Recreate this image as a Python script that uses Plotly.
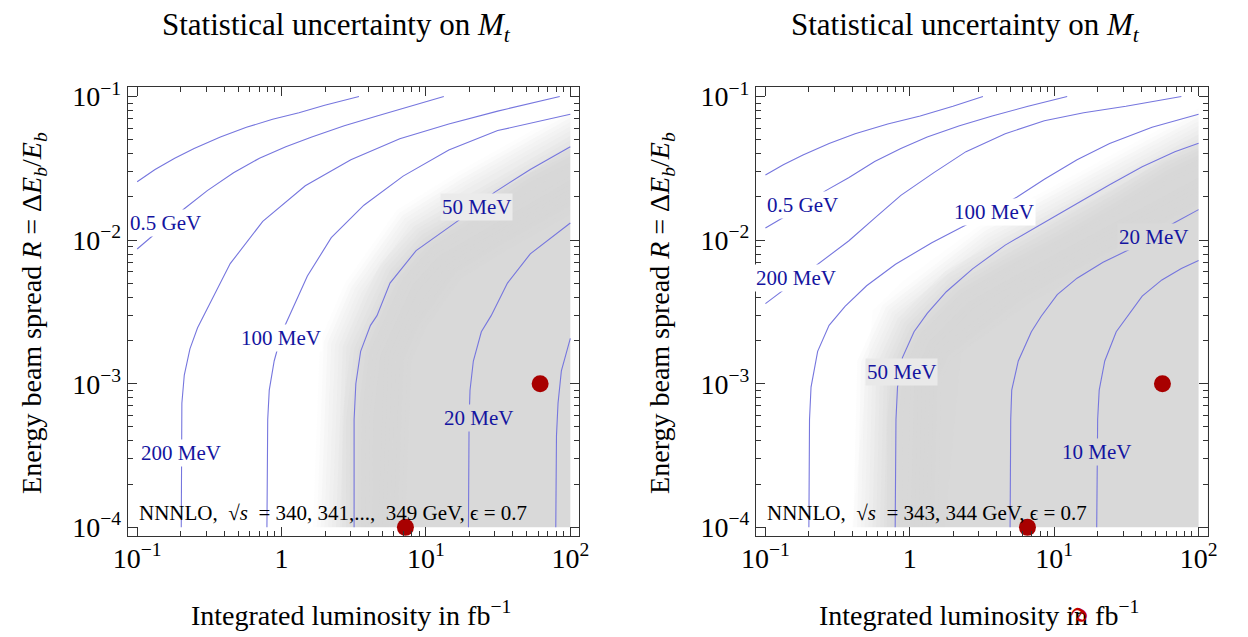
import math
import plotly.graph_objects as go

# ---- left panel: sqrt(s) = 340 ... 349 GeV ----
# contour lines (L in fb^-1, R = dE/E)
L1_1000 = [0.1, 0.133, 0.182, 0.248, 0.377, 0.571, 0.867, 1.32, 1.99, 3.44]
R1_1000 = [0.0255, 0.0310, 0.0372, 0.0435, 0.0522, 0.0610, 0.0695, 0.0771, 0.0869, 0.1]
L1_500 = [0.1, 0.125, 0.213, 0.306, 0.465, 0.703, 1.07, 1.62, 2.72, 4.58, 7.71, 13.3]
R1_500 = [0.00867, 0.0105, 0.0166, 0.0221, 0.0294, 0.0372, 0.0447, 0.0522, 0.0626, 0.0731, 0.0855, 0.1]
L1_200 = [0.202, 0.202, 0.204, 0.212, 0.232, 0.262, 0.300, 0.441, 0.741, 1.46, 3.02, 6.59, 14.4, 31.4, 84.5]
R1_200 = [1e-4, 4.35e-4, 7.31e-4, 1.15e-3, 1.75e-3, 2.45e-3, 3.20e-3, 6.86e-3, 0.0135, 0.0239, 0.0362, 0.0508,
          0.0643, 0.0791, 0.1]
L1_100 = [0.792, 0.802, 0.822, 0.889, 1.01, 1.17, 1.51, 2.21, 3.72, 6.95, 14.4, 31.4, 100]
R1_100 = [1e-4, 5.64e-4, 9.02e-4, 1.44e-3, 2.30e-3, 3.16e-3, 5.62e-3, 0.0104, 0.0175, 0.0279, 0.0424, 0.0579, 0.0751]
L1_50 = [3.18, 3.18, 3.27, 3.53, 4.13, 4.58, 5.64, 8.55, 17.7, 29.8, 52.8, 100]
R1_50 = [1e-4, 5.64e-4, 1e-3, 1.68e-3, 2.55e-3, 2.98e-3, 5.02e-3, 8.45e-3, 0.01422, 0.0215, 0.0310, 0.0447]
L1_20 = [19.7, 19.9, 20.2, 21.3, 24.2, 28.3, 36.7, 52.8, 100]
R1_20 = [1e-4, 5.64e-4, 9.02e-4, 1.44e-3, 2.30e-3, 2.98e-3, 5.02e-3, 8.02e-3, 0.01315]
L1_10 = [79.3, 80.2, 82.2, 86.7, 100]
R1_10 = [1e-4, 4.35e-4, 7.31e-4, 1.23e-3, 2.07e-3]

# edge of the grey region (full grey starts here)
L1_shade = [3.35, 3.35, 3.37, 3.82, 5.22, 6.59, 10.5, 24.2, 50.2, 100, 200]
R1_shade = [5e-5, 1e-4, 5.64e-4, 1.68e-3, 3.48e-3, 5.57e-3, 9.37e-3, 0.01578, 0.02655, 0.0382, 0.052]

L1_dots = [7.21, 61.8]
R1_dots = [1e-4, 1e-3]

# ---- right panel: sqrt(s) = 343, 344 GeV ----
L2_1000 = [0.1, 0.133, 0.182, 0.276, 0.418, 0.703, 1.18, 1.99, 3.21]
R2_1000 = [0.0284, 0.0335, 0.0392, 0.0470, 0.0550, 0.0643, 0.0731, 0.0855, 0.1]
L2_500 = [0.1, 0.133, 0.262, 0.377, 0.571, 0.867, 1.32, 2.21, 3.72, 6.59, 12.3]
R2_500 = [0.01216, 0.01436, 0.0221, 0.0272, 0.0353, 0.0435, 0.0522, 0.0626, 0.0731, 0.0855, 0.1]
L2_200 = [0.1, 0.130, 0.230, 0.377, 0.571, 0.867, 1.46, 2.45, 4.58, 8.55, 16.0, 31.4, 76.0]
R2_200 = [0.00361, 0.00441, 0.00686, 0.00986, 0.01422, 0.0205, 0.0294, 0.0413, 0.0550, 0.0677, 0.0771, 0.0855, 0.1]
L2_100 = [0.200, 0.202, 0.207, 0.230, 0.276, 0.356, 0.502, 0.796, 1.42, 2.83, 5.50, 8.55, 14.4, 24.2, 47.6, 100]
R2_100 = [1e-4, 5.64e-4, 9.48e-4, 1.68e-3, 2.55e-3, 3.46e-3, 4.81e-3, 6.79e-3, 9.59e-3, 0.01374, 0.0199,
          0.0265, 0.0362, 0.0470, 0.0610, 0.0751]
L2_50 = [0.792, 0.802, 0.822, 0.889, 1.07, 1.32, 1.79, 2.72, 4.58, 8.55, 14.4, 24.2, 40.7, 68.5, 100]
R2_50 = [1e-4, 5.64e-4, 9.48e-4, 1.52e-3, 2.30e-3, 3.09e-3, 4.37e-3, 6.31e-3, 9.23e-3, 0.01334, 0.0180,
         0.0243, 0.0324, 0.0412, 0.0473]
L2_20 = [4.95, 5.00, 5.08, 5.64, 6.95, 8.13, 10.5, 14.4, 21.8, 34.8, 68.5, 100]
R2_20 = [1e-4, 5.64e-4, 9.02e-4, 1.44e-3, 2.30e-3, 2.95e-3, 4.17e-3, 5.43e-3, 7.00e-3, 8.81e-3, 0.01327, 0.0163]
L2_10 = [19.7, 20.0, 20.5, 22.4, 26.9, 33.1, 40.7, 55.7, 76.0, 100]
R2_10 = [1e-4, 5.64e-4, 9.02e-4, 1.44e-3, 2.30e-3, 3.09e-3, 4.07e-3, 5.28e-3, 6.34e-3, 7.22e-3]

L2_shade = [0.782, 0.782, 0.789, 0.845, 1.12, 1.46, 2.21, 4.58, 11.1, 26.9, 61.8, 100, 200]
R2_shade = [5e-5, 1e-4, 5.64e-4, 1.23e-3, 2.30e-3, 2.98e-3, 4.52e-3, 6.86e-3, 0.01096, 0.01845, 0.0310, 0.0392, 0.052]

L2_dots = [6.53, 56.2]
R2_dots = [1e-4, 1e-3]

# data domain of the scan
L_max = 100
R_min = 1e-4

GREY = "rgb(217,217,217)"
LINE = "rgb(118,118,222)"
LABEL = "#1414a0"
FONT = "Liberation Serif"

fig = go.Figure()


def add_panel(xa, ya, curves, shade_L, shade_R, dots_L, dots_R):
    # grey region
    fig.add_trace(go.Scatter(x=shade_L + [shade_L[-1]], y=shade_R + [shade_R[0]], xaxis=xa, yaxis=ya,
                             mode="lines", fill="toself", fillcolor=GREY, line=dict(width=0),
                             hoverinfo="skip"))
    # soft edge: stacked translucent strokes along the boundary give a linear fade
    n = 12
    for k in range(n, 0, -1):
        a = 0.5 / n if k == n else 1.0 / (k + 0.5)
        fig.add_trace(go.Scatter(x=shade_L, y=shade_R, xaxis=xa, yaxis=ya, mode="lines",
                                 line=dict(width=2 * 46 * k / n, color="rgba(217,217,217,%.3f)" % a),
                                 hoverinfo="skip"))
    # keep everything outside the scanned domain white
    fig.add_trace(go.Scatter(x=[L_max, 1e4, 1e4, L_max], y=[1e-6, 1e-6, 10, 10], xaxis=xa, yaxis=ya,
                             mode="lines", fill="toself", fillcolor="white", line=dict(width=0),
                             hoverinfo="skip"))
    fig.add_trace(go.Scatter(x=[1e-3, 1e4, 1e4, 1e-3], y=[1e-6, 1e-6, R_min, R_min], xaxis=xa, yaxis=ya,
                             mode="lines", fill="toself", fillcolor="white", line=dict(width=0),
                             hoverinfo="skip"))
    for cx, cy in curves:
        fig.add_trace(go.Scatter(x=cx, y=cy, xaxis=xa, yaxis=ya, mode="lines",
                                 line=dict(color=LINE, width=1.1)))
    fig.add_trace(go.Scatter(x=dots_L, y=dots_R, xaxis=xa, yaxis=ya, mode="markers",
                             marker=dict(size=17, color="#a80000"), cliponaxis=False))


add_panel("x", "y",
          [(L1_1000, R1_1000), (L1_500, R1_500), (L1_200, R1_200), (L1_100, R1_100),
           (L1_50, R1_50), (L1_20, R1_20), (L1_10, R1_10)],
          L1_shade, R1_shade, L1_dots, R1_dots)
add_panel("x2", "y2",
          [(L2_1000, R2_1000), (L2_500, R2_500), (L2_200, R2_200), (L2_100, R2_100),
           (L2_50, R2_50), (L2_20, R2_20), (L2_10, R2_10)],
          L2_shade, R2_shade, L2_dots, R2_dots)

# contour labels: text, L, R, background
labels1 = [("0.5 GeV", 0.157, 0.01315, "white"), ("50 MeV", 22.4, 0.01706, "#ebebeb"),
           ("100 MeV", 0.998, 0.00207, "white"), ("200 MeV", 0.202, 3.27e-4, "white"),
           ("20 MeV", 23.0, 5.79e-4, GREY)]
labels2 = [("0.5 GeV", 0.182, 0.01767, "white"), ("200 MeV", 0.164, 0.00548, "white"),
           ("100 MeV", 3.82, 0.01578, "white"), ("20 MeV", 48.9, 0.01057, GREY),
           ("50 MeV", 0.875, 0.00120, "#e9e9e9"), ("10 MeV", 19.7, 3.35e-4, GREY)]

ann = []
# annotations on log axes take log10 coordinates
for (labs, xr, yr) in [(labels1, "x", "y"), (labels2, "x2", "y2")]:
    for t, lx, ly, bg in labs:
        ann.append(dict(text=t, x=math.log10(lx), y=math.log10(ly), xref=xr, yref=yr, showarrow=False,
                        xanchor="center", yanchor="middle", bgcolor=bg, borderpad=1,
                        font=dict(size=21, color=LABEL, family=FONT)))

note1 = "NNNLO,  √<i>s</i>  = 340, 341,...,  349 GeV, ϵ = 0.7"
note2 = "NNNLO,  √<i>s</i>  = 343, 344 GeV, ϵ = 0.7"
for t, xr, yr in [(note1, "x", "y"), (note2, "x2", "y2")]:
    ann.append(dict(text=t, x=math.log10(0.1), y=math.log10(1.25e-4), xref=xr, yref=yr,
                    xanchor="left", yanchor="middle", showarrow=False,
                    font=dict(size=21, color="black", family=FONT)))

title = "Statistical uncertainty on <i>M</i><sub><i>t</i></sub>"
ytitle = "Energy beam spread <i>R</i> = Δ<i>E</i><sub><i>b</i></sub>/<i>E</i><sub><i>b</i></sub>"
xtitle = "Integrated luminosity in fb<sup>−1</sup>"
for cx, px_t, px_y in [(0.2632, 0.2748, 0.0152), (0.7768, 0.7885, 0.5287)]:
    ann.append(dict(text=title, x=cx, y=0.971, xref="paper", yref="paper", showarrow=False,
                    xanchor="center", yanchor="middle",
                    font=dict(size=31, family=FONT, color="black")))
    ann.append(dict(text=xtitle, x=px_t, y=0.026, xref="paper", yref="paper", showarrow=False,
                    xanchor="center", yanchor="middle",
                    font=dict(size=28, family=FONT, color="black")))
    ann.append(dict(text=ytitle, x=px_y, y=0.51, xref="paper", yref="paper", showarrow=False,
                    xanchor="center", yanchor="middle", textangle=-90,
                    font=dict(size=28, family=FONT, color="black")))

# stray red glyph under the right panel
ann.append(dict(text="e", x=0.8725, y=0.022, xref="paper", yref="paper", showarrow=False,
                xanchor="center", yanchor="middle", textangle=125,
                font=dict(size=32, family=FONT, color="#c00000")))

xmin = [m * 10 ** e for e in range(-1, 2) for m in range(2, 10)]
ymin = [m * 10 ** e for e in range(-4, -1) for m in range(2, 10)]

axis = dict(type="log", showline=True, linecolor="#333", linewidth=1, mirror="allticks",
            ticks="inside", ticklen=9, tickwidth=1, tickcolor="#333", showgrid=False, zeroline=False,
            tickfont=dict(size=28, family=FONT, color="black"))
xaxis = dict(axis, range=[-1.066, 2.063], tickvals=[0.1, 1, 10, 100], ticklabelstandoff=-3,
             ticktext=["10<sup>−1</sup>", "1", "10<sup>1</sup>", "10<sup>2</sup>"],
             minor=dict(tickvals=xmin, ticks="inside", ticklen=5, tickcolor="#333", tickwidth=1))
yaxis = dict(axis, range=[-4.063, -0.934], tickvals=[1e-4, 1e-3, 1e-2, 1e-1],
             ticktext=["10<sup>−4</sup>", "10<sup>−3</sup>", "10<sup>−2</sup>", "10<sup>−1</sup>"],
             minor=dict(tickvals=ymin, ticks="inside", ticklen=5, tickcolor="#333", tickwidth=1))

fig.update_layout(
    width=1248, height=637, margin=dict(l=0, r=0, t=0, b=0),
    paper_bgcolor="white", plot_bgcolor="white", showlegend=False,
    xaxis=dict(xaxis, domain=[0.0921, 0.4615], anchor="y"),
    yaxis=dict(yaxis, domain=[0.1507, 0.8744], anchor="x"),
    xaxis2=dict(xaxis, domain=[0.6058, 0.9752], anchor="y2"),
    yaxis2=dict(yaxis, domain=[0.1507, 0.8744], anchor="x2"),
    annotations=ann,
)

# drop the page's default body margin so the figure sits at the window origin
fig.write_html("out.html", config={"displayModeBar": False},
               post_script="document.body.style.margin='0';")
